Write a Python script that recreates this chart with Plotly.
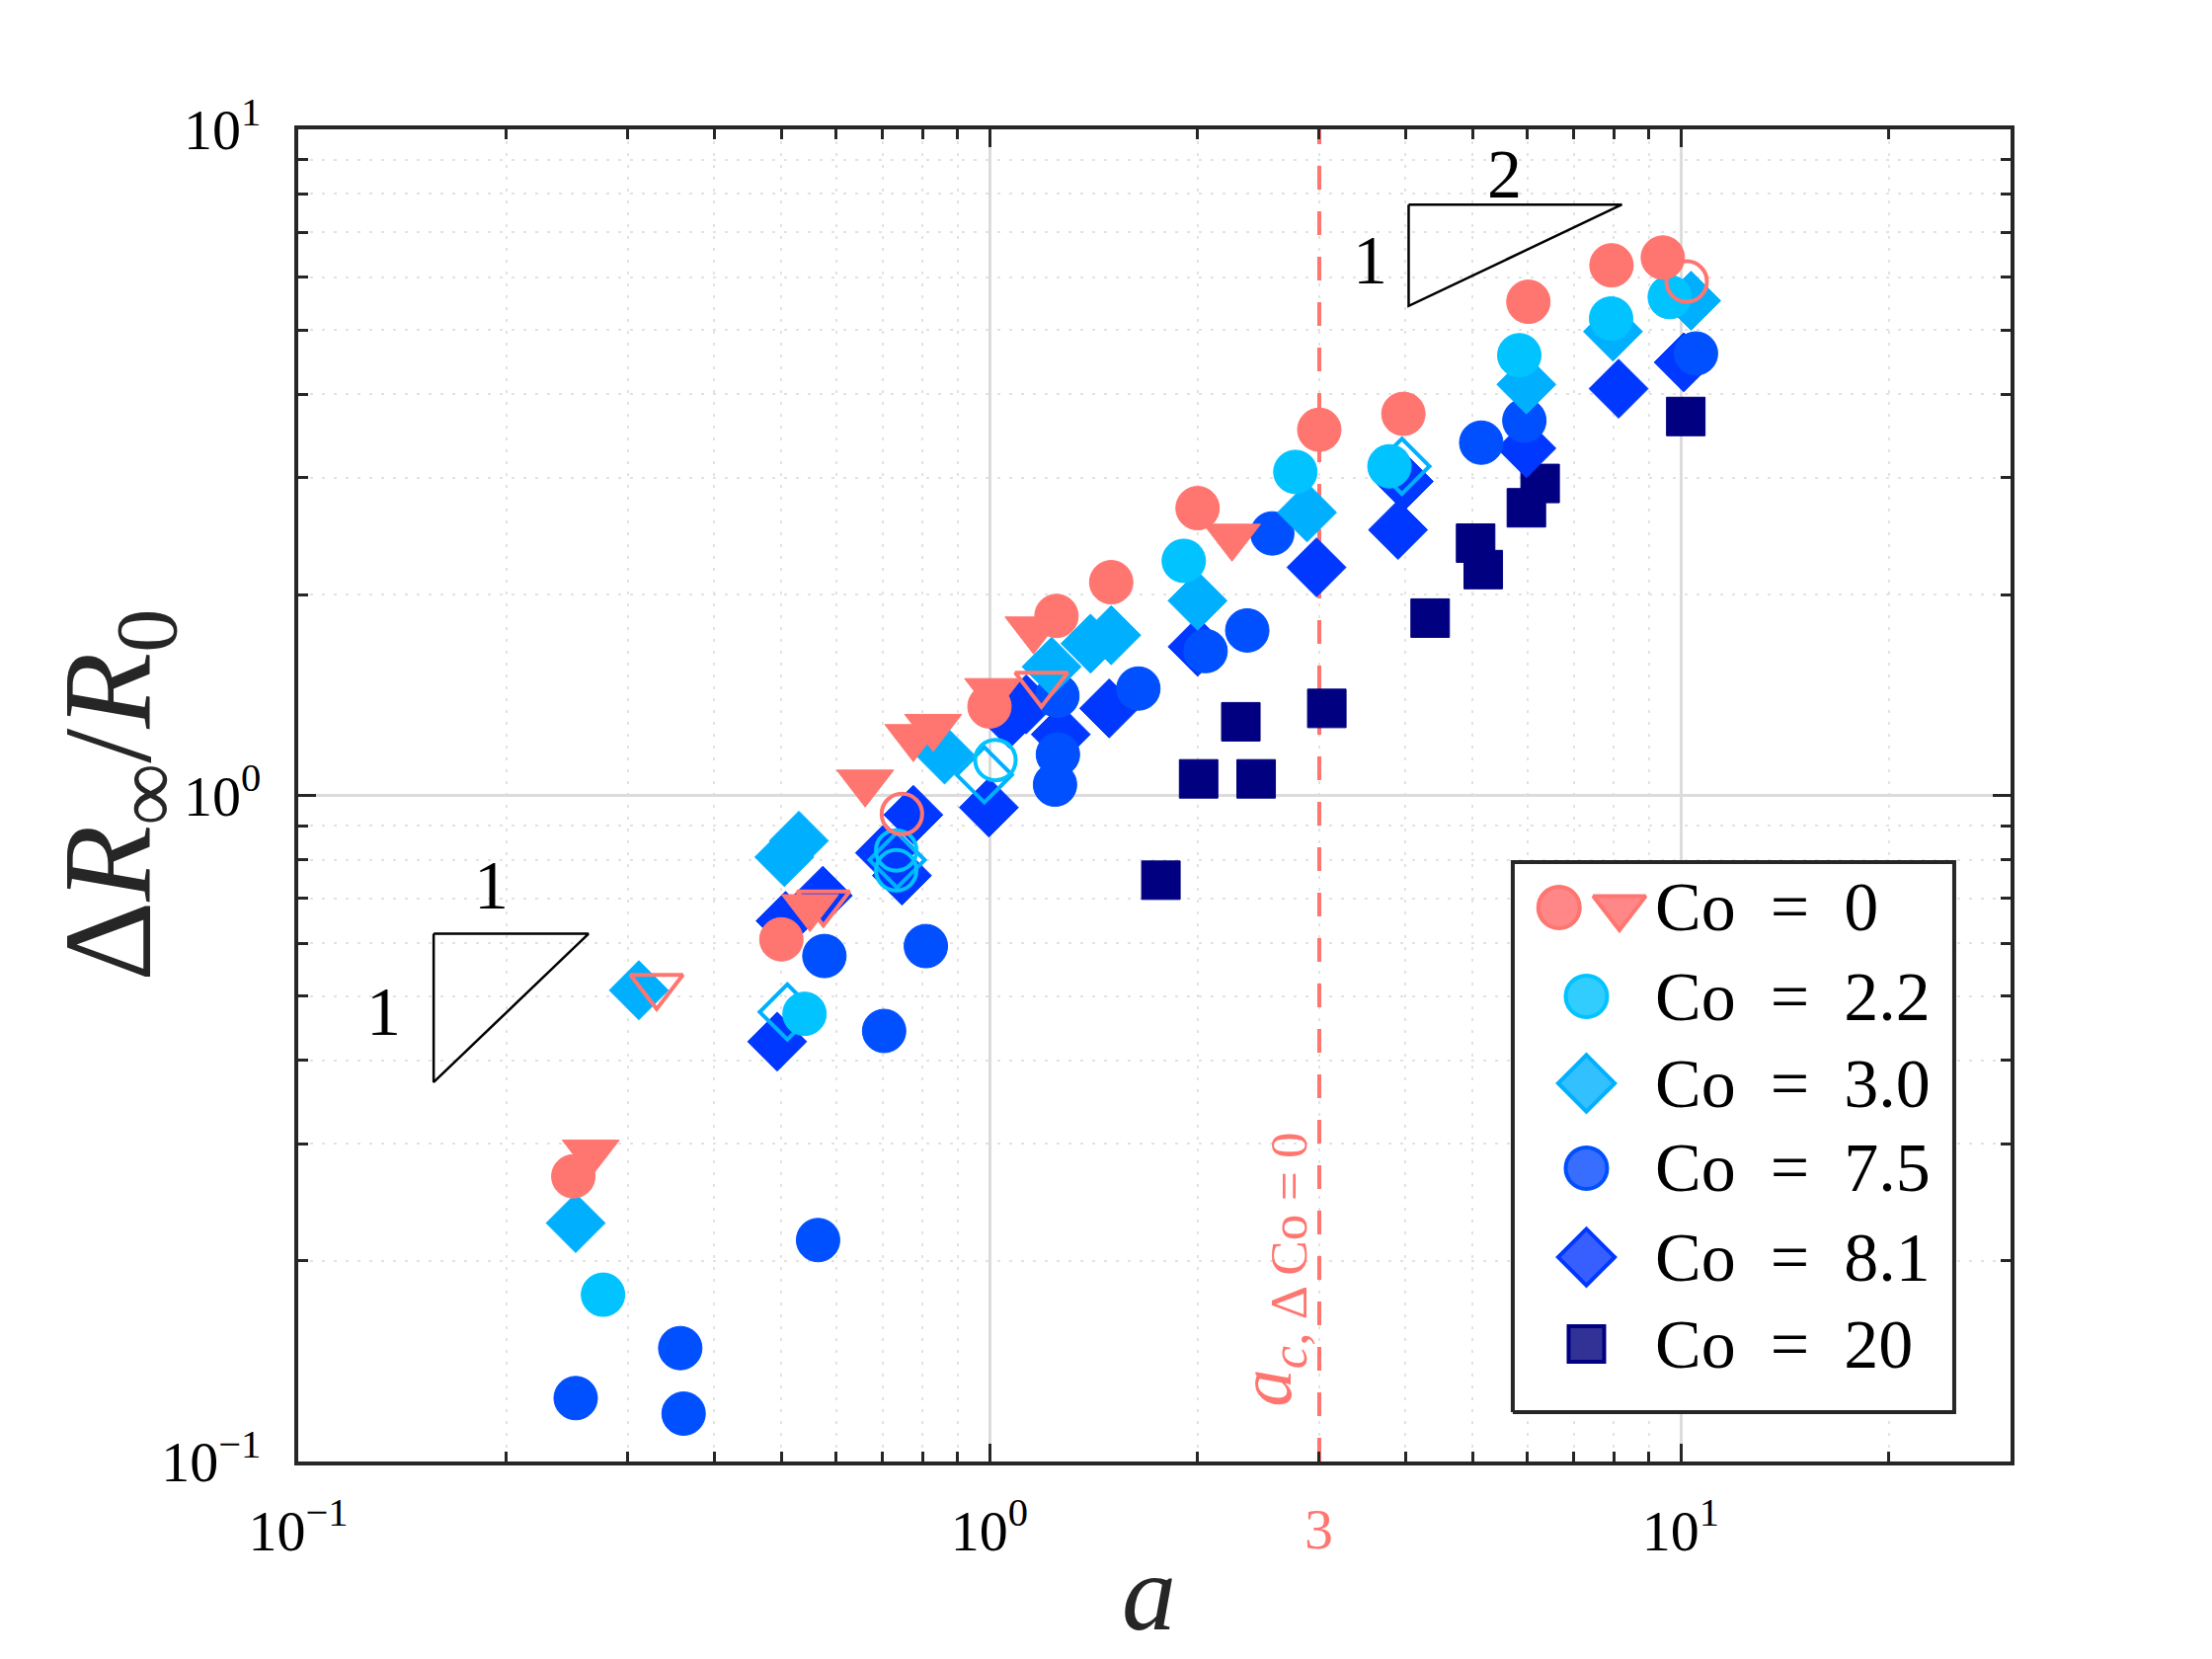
import math
import plotly.graph_objects as go

# ---------------- data (a, dR_inf/R0) ----------------
co0_circle_a = [0.25, 0.50, 1.00, 1.25, 1.50, 2.00, 3.00, 3.97, 6.02, 7.94, 9.42]
co0_circle_r = [0.268, 0.608, 1.36, 1.86, 2.09, 2.70, 3.54, 3.74, 5.51, 6.25, 6.42]
co0_circle_open_a = [0.747, 10.2]
co0_circle_open_r = [0.938, 5.91]
co0_tri_a = [0.265, 0.55, 0.661, 0.776, 0.829, 1.012, 1.158, 2.243]
co0_tri_r = [0.291, 0.68, 1.046, 1.224, 1.268, 1.435, 1.776, 2.447]
co0_tri_open_a = [0.33, 0.575, 1.189]
co0_tri_open_r = [0.517, 0.69, 1.469]

co22_a = [0.276, 0.540, 1.91, 2.77, 3.79, 5.84, 7.93, 9.64]
co22_r = [0.178, 0.470, 2.25, 3.06, 3.12, 4.58, 5.20, 5.60]
co22_open_a = [0.733, 0.733, 1.02]
co22_open_r = [0.827, 0.772, 1.13]

co30_a = [0.252, 0.311, 0.505, 0.53, 0.861, 1.23, 1.40, 1.50, 2.00, 2.88, 5.98, 7.98, 10.35]
co30_r = [0.228, 0.510, 0.808, 0.855, 1.152, 1.56, 1.69, 1.74, 1.96, 2.66, 4.14, 4.97, 5.53]
co30_open_a = [0.51, 0.735, 0.983, 3.95]
co30_open_r = [0.473, 0.80, 1.074, 3.12]

co75_a = [0.252, 0.357, 0.361, 0.565, 0.577, 0.704, 0.809, 1.244, 1.256, 1.254,
          1.642, 2.054, 2.36, 2.565, 5.145, 5.94, 10.52]
co75_r = [0.1245, 0.148, 0.118, 0.215, 0.574, 0.443, 0.594, 1.038, 1.152, 1.411,
          1.447, 1.647, 1.769, 2.474, 3.386, 3.654, 4.608]

co81_a = [0.493, 0.507, 0.574, 0.706, 0.747, 0.776, 0.998, 1.069, 1.13, 1.268,
          1.49, 2.0, 2.972, 3.9, 3.975, 5.98, 8.13, 10.1]
co81_r = [0.427, 0.648, 0.707, 0.82, 0.758, 0.935, 0.959, 1.303, 1.37, 1.235,
          1.351, 1.672, 2.2, 2.504, 2.961, 3.32, 4.08, 4.47]

co20_a = [1.77, 2.007, 2.431, 2.31, 3.076, 4.34, 5.05, 5.18, 5.98, 6.26, 10.17]
co20_r = [0.746, 1.059, 1.059, 1.29, 1.351, 1.846, 2.392, 2.183, 2.703, 2.94, 3.706]

# slope triangles (a, R)
slope1_a = [0.157, 0.263, 0.157, 0.157]
slope1_r = [0.62, 0.62, 0.371, 0.62]
slope2_a = [4.04, 8.22, 4.04, 4.04]
slope2_r = [7.71, 7.71, 5.43, 7.71]

a_critical = 3
y_limits = [0.1, 10]

legend_labels = ["Co = 0", "Co = 2.2", "Co = 3.0", "Co = 7.5", "Co = 8.1", "Co = 20"]

# ---------------- styles ----------------
SALMON = "#FF7570"
CYAN = "#00C3FF"
LBLUE = "#00B0FF"
BLUE = "#0050FF"
DBLUE = "#0038FF"
NAVY = "#000080"
AX = "#262626"
FONT = "Liberation Serif"

fig = go.Figure()

# critical a line (drawn first, under the markers)
fig.add_trace(go.Scatter(x=[a_critical, a_critical], y=y_limits, mode="lines",
                         showlegend=False, hoverinfo="skip",
                         line=dict(color=SALMON, width=4, dash="24px,22px")))


def add(x, y, symbol, color, size, open_=False):
    fig.add_trace(go.Scatter(
        x=x, y=y, mode="markers", showlegend=False, hoverinfo="skip",
        marker=dict(symbol=symbol, size=size, color=color,
                    line=dict(color=color, width=4 if open_ else 1))))


add(co20_a, co20_r, "square", NAVY, 39)
add(co81_a, co81_r, "diamond", DBLUE, 46)
add(co75_a, co75_r, "circle", BLUE, 44)
add(co30_a, co30_r, "diamond", LBLUE, 46)
add(co30_open_a, co30_open_r, "diamond-open", LBLUE, 43, True)
add(co22_a, co22_r, "circle", CYAN, 44)
add(co22_open_a, co22_open_r, "circle-open", CYAN, 41, True)
add(co0_circle_a, co0_circle_r, "circle", SALMON, 44)
add(co0_tri_a, co0_tri_r, "triangle-down", SALMON, 50)
add(co0_circle_open_a, co0_circle_open_r, "circle-open", SALMON, 41, True)
add(co0_tri_open_a, co0_tri_open_r, "triangle-down-open", SALMON, 46, True)

# slope triangles
for sx, sy in [(slope1_a, slope1_r), (slope2_a, slope2_r)]:
    fig.add_trace(go.Scatter(x=sx, y=sy, mode="lines", showlegend=False,
                             hoverinfo="skip", line=dict(color="black", width=2.5)))

L = math.log10
annots = []
txt = dict(font=dict(family=FONT, size=70, color="black"), showarrow=False)
annots.append(dict(x=L(0.19), y=L(0.732), text="1", xref="x", yref="y", **txt))
annots.append(dict(x=L(0.133), y=L(0.473), text="1", xref="x", yref="y", **txt))
annots.append(dict(x=L(5.55), y=L(8.55), text="2", xref="x", yref="y", **txt))
annots.append(dict(x=L(3.55), y=L(6.37), text="1", xref="x", yref="y", **txt))

# rotated critical label
annots.append(dict(x=L(2.55), y=L(0.194), xref="x", yref="y", textangle=-90,
                   text="<i>a</i><sub><i>c</i>, Δ Co = 0</sub>", showarrow=False,
                   xanchor="center", yanchor="middle",
                   font=dict(family=FONT, size=76, color=SALMON)))
# salmon "3" tick label
annots.append(dict(x=L(a_critical), y=-0.0511, xref="x", yref="paper", text="3",
                   showarrow=False, yanchor="middle",
                   font=dict(family=FONT, size=58, color=SALMON)))
# axis titles
annots.append(dict(x=-0.106, y=0.5, xref="paper", yref="paper", textangle=-90,
                   text="Δ<i>R</i><sub>∞</sub>/<i>R</i><sub>0</sub>", showarrow=False,
                   xanchor="center", yanchor="middle",
                   font=dict(family=FONT, size=126, color=AX)))
annots.append(dict(x=0.497, y=-0.0986, xref="paper", yref="paper",
                   text="<i>a</i>", showarrow=False, xanchor="center", yanchor="middle",
                   font=dict(family=FONT, size=110, color=AX)))

# ---------------- custom legend (overlay axes in plot-fraction units) ----------------
box_x = [0.7093, 0.9671, 0.9671, 0.7093, 0.7093]
box_y = [0.0371, 0.0371, 0.45, 0.45, 0.0371]
fig.add_trace(go.Scatter(x=box_x, y=box_y, xaxis="x2", yaxis="y2", mode="lines",
                         fill="toself", fillcolor="white", showlegend=False,
                         hoverinfo="skip", line=dict(color=AX, width=4)))
rows = [0.4159, 0.3491, 0.2839, 0.2202, 0.1534, 0.0882]
leg_items = [
    (0.7363, rows[0], "circle", SALMON, "rgba(255,135,135,1)", 42),
    (0.7716, rows[0], "triangle-down", SALMON, "rgba(255,135,135,1)", 46),
    (0.7523, rows[1], "circle", CYAN, "rgba(50,205,255,1)", 42),
    (0.7523, rows[2], "diamond", LBLUE, "rgba(50,192,255,1)", 44),
    (0.7523, rows[3], "circle", BLUE, "rgba(55,110,255,1)", 42),
    (0.7523, rows[4], "diamond", DBLUE, "rgba(55,95,255,1)", 44),
    (0.7523, rows[5], "square", NAVY, "rgba(50,50,150,1)", 36),
]
for lx, ly, sym, lc, fc, sz in leg_items:
    fig.add_trace(go.Scatter(x=[lx], y=[ly], xaxis="x2", yaxis="y2", mode="markers",
                             showlegend=False, hoverinfo="skip",
                             marker=dict(symbol=sym, size=sz, color=fc,
                                         line=dict(color=lc, width=4))))
for ly, lab in zip(rows, legend_labels):
    annots.append(dict(x=0.791, y=ly, xref="paper", yref="paper", xanchor="left",
                       yanchor="middle", showarrow=False,
                       text=lab.replace(" = ", "\u2002=\u2002"),
                       font=dict(family=FONT, size=70, color="black")))

minor_vals = [0.2, 0.3, 0.4, 0.5, 0.6, 0.7, 0.8, 0.9, 2, 3, 4, 5, 6, 7, 8, 9, 20]
axis_common = dict(
    type="log", showline=True, linewidth=4, linecolor=AX, mirror="allticks",
    ticks="inside", ticklen=18, tickwidth=3, tickcolor=AX,
    showgrid=True, gridcolor="#DCDCDC", gridwidth=2.5, zeroline=False,
    tickfont=dict(family=FONT, size=58, color="black"),
    minor=dict(tickvals=minor_vals, ticks="inside", ticklen=10, tickwidth=3,
               tickcolor=AX, showgrid=True, gridcolor="#E2E2E2", gridwidth=2,
               griddash="3px,9px"),
)
fig.update_layout(
    width=2240, height=1680,
    margin=dict(l=294, r=212, t=123, b=208),
    paper_bgcolor="white", plot_bgcolor="white",
    showlegend=False,
    xaxis=dict(range=[-1, L(30)], tickvals=[0.1, 1, 10],
               ticktext=["10<sup>\u22121</sup>", "10<sup>0</sup>", "10<sup>1</sup>"],
               ticklabelstandoff=16, **axis_common),
    yaxis=dict(range=[-1, 1], tickvals=[0.1, 1, 10],
               ticktext=["10<sup>\u22121</sup>", "10<sup>0</sup>", "10<sup>1</sup>"],
               ticklabelstandoff=22, **axis_common),
    xaxis2=dict(overlaying="x", range=[0, 1], visible=False, fixedrange=True),
    yaxis2=dict(overlaying="y", range=[0, 1], visible=False, fixedrange=True),
    annotations=annots,
)

fig.write_html("out.html")
